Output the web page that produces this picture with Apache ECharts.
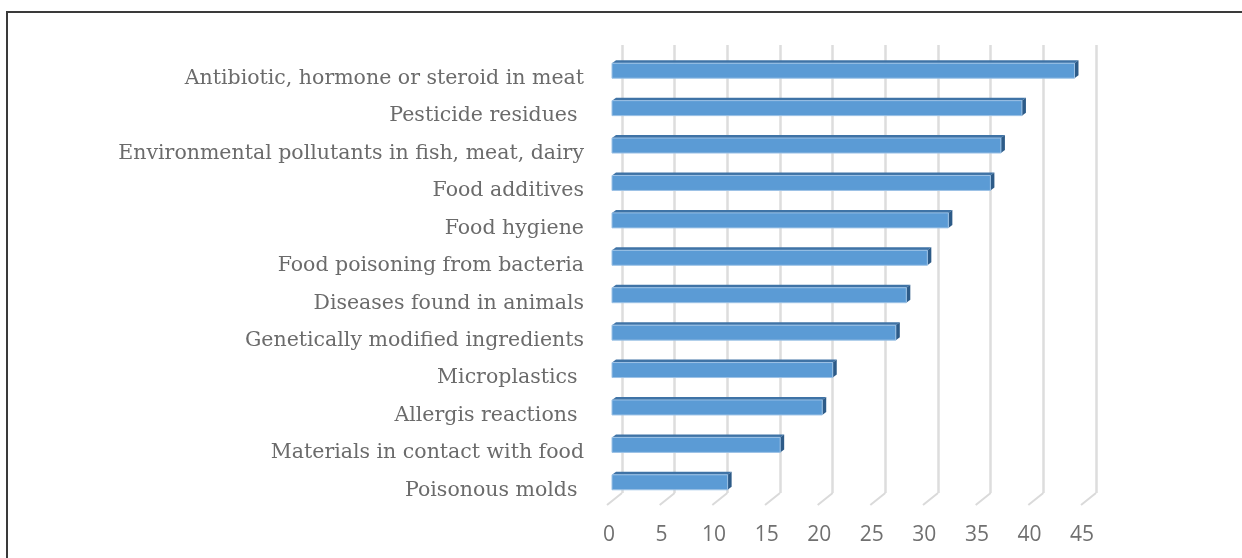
<!DOCTYPE html>
<html>
<head>
<meta charset="utf-8">
<script src="https://cdn.jsdelivr.net/npm/echarts@6/dist/echarts.min.js"></script>
<style>
  html, body { margin: 0; padding: 0; background: #ffffff; overflow: hidden; }
  #chart { position: absolute; left: 0; top: 0; width: 1242px; height: 558px; }
  #frame { position: absolute; left: 6px; top: 11px; width: 1300px; height: 600px;
           border-left: 2px solid #3a3a3a; border-top: 2px solid #3a3a3a; pointer-events: none; }
</style>
</head>
<body>
<div id="chart"></div>
<div id="frame"></div>
<script>
const categories = [
  "Antibiotic, hormone or steroid in meat",
  "Pesticide residues ",
  "Environmental pollutants in fish, meat, dairy",
  "Food additives",
  "Food hygiene",
  "Food poisoning from bacteria",
  "Diseases found in animals",
  "Genetically modified ingredients",
  "Microplastics ",
  "Allergis reactions ",
  "Materials in contact with food",
  "Poisonous molds "
];
const values = [44, 39, 37, 36, 32, 30, 28, 27, 21, 20, 16, 11];
const xTicks = [0, 5, 10, 15, 20, 25, 30, 35, 40, 45];

const chart = echarts.init(document.getElementById('chart'), null, { renderer: 'canvas' });

const option = {
  animation: false,
  backgroundColor: '#ffffff',
  grid: [
    { left: 612, right: 157, top: 52, bottom: 57 },
    { left: 622, right: 146, top: 45, bottom: 65 }
  ],
  xAxis: [
    {
      gridIndex: 0, type: 'value', min: 0, max: 45, interval: 5,
      splitLine: { show: false }, axisLine: { show: false }, axisTick: { show: false },
      axisLabel: { margin: 24, fontFamily: 'Open Sans', fontSize: 21, color: '#707070', padding: [0, 6, 0, 0] }
    },
    {
      gridIndex: 1, type: 'value', min: 0, max: 45, interval: 5,
      axisLabel: { show: false }, axisLine: { show: false }, axisTick: { show: false },
      splitLine: { show: true, lineStyle: { color: '#dddddd', width: 2.5 } }
    }
  ],
  yAxis: [
    {
      gridIndex: 0, type: 'category', data: categories, inverse: true,
      axisLine: { show: false }, axisTick: { show: false }, splitLine: { show: false },
      axisLabel: { margin: 28, fontFamily: 'DejaVu Serif', fontSize: 20.5, lineHeight: 16,
                   color: '#6b6b6b', verticalAlign: 'top' }
    },
    { gridIndex: 1, type: 'value', min: 0, max: 1, show: false, splitLine: { show: false } }
  ],
  series: [
    {
      type: 'custom',
      xAxisIndex: 1, yAxisIndex: 1,
      data: xTicks.map(v => [v, 0]),
      encode: { x: 0, y: 1 },
      renderItem: function (params, api) {
        const p = api.coord([api.value(0), 0]);
        return {
          type: 'line',
          shape: { x1: p[0], y1: p[1], x2: p[0] - 15, y2: p[1] + 12 },
          style: { stroke: '#dadada', lineWidth: 2 }
        };
      }
    },
    {
      type: 'custom',
      xAxisIndex: 0, yAxisIndex: 0,
      data: values.map((v, i) => [v, i]),
      encode: { x: 0, y: 1 },
      renderItem: function (params, api) {
        const v = api.value(0), c = api.value(1);
        const s = api.coord([0, c]);
        const e = api.coord([v, c]);
        const h = 15, dx = 4, dy = 3;
        const top = s[1] - h / 2;
        const bot = top + h;
        return {
          type: 'group',
          children: [
            { type: 'polygon', shape: { points: [[s[0], top], [s[0] + dx, top - dy], [e[0] + dx, top - dy], [e[0], top]] },
              style: { fill: '#3f73a6' } },
            { type: 'polygon', shape: { points: [[e[0], top], [e[0] + dx, top - dy], [e[0] + dx, bot - dy], [e[0], bot]] },
              style: { fill: '#2d5b88' } },
            { type: 'rect', shape: { x: s[0], y: top, width: e[0] - s[0], height: h },
              style: { fill: '#5b9bd5', stroke: '#9cc2e6', lineWidth: 1 } }
          ]
        };
      }
    }
  ]
};
chart.setOption(option);
</script>
</body>
</html>
